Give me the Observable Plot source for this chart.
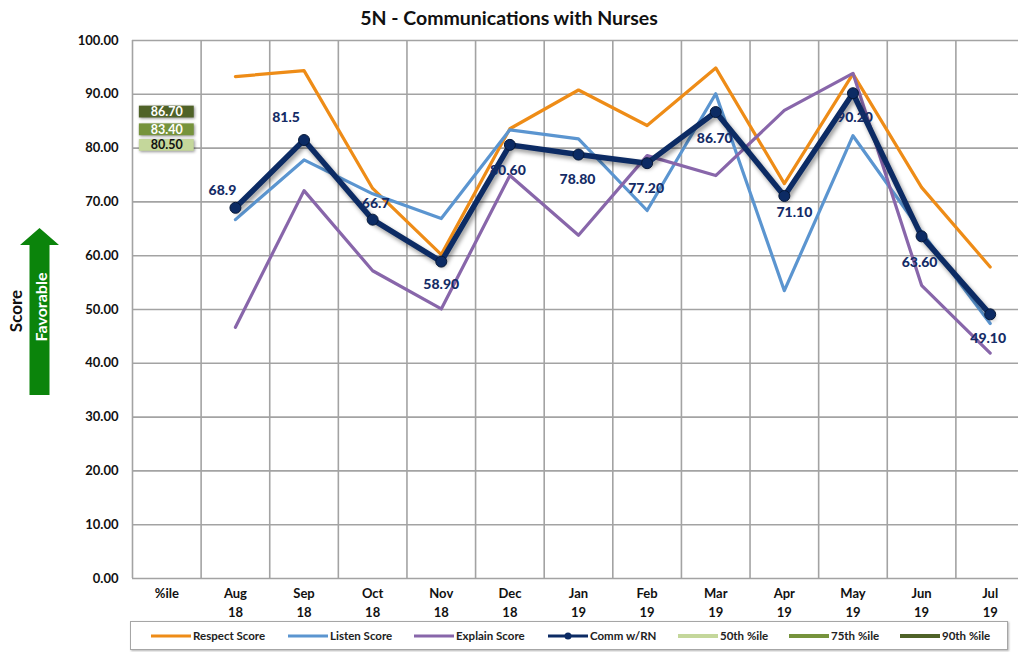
<!DOCTYPE html>
<html><head><meta charset="utf-8">
<script src="https://cdn.jsdelivr.net/npm/d3@7"></script>
<script src="https://cdn.jsdelivr.net/npm/@observablehq/plot@0.6"></script>
<style>
html,body{margin:0;padding:0;background:#fff;overflow:hidden;}
#wrap{position:relative;width:1018px;height:652px;font-family:Lato,"Open Sans",sans-serif;overflow:hidden;}
#title{position:absolute;top:0;left:0;width:1018px;height:36px;text-align:center;font-weight:bold;font-size:19.5px;line-height:36px;color:#111;}
#chart{position:absolute;top:30px;left:0;}
#overlay{position:absolute;top:0;left:0;}
#legend{position:absolute;left:130px;top:621px;width:876px;height:27px;border:1.5px solid #a6a6a6;box-shadow:1px 1px 2px rgba(0,0,0,.3);background:#fff;}
.li{position:absolute;top:0;height:27px;display:flex;align-items:center;font-size:11.5px;font-weight:bold;color:#222;white-space:nowrap;}
.li svg{margin-right:2px;}
</style></head>
<body>
<div id="wrap">
  <div id="title"></div>
  <div id="chart"></div>
  <svg id="overlay" width="70" height="652">
    <polygon points="20,245 39.5,228 59,245 49.5,245 49.5,395 29.5,395 29.5,245" fill="#0b840b"/>
    <text id="fav" transform="translate(40,307) rotate(-90)" text-anchor="middle" dominant-baseline="central" fill="#fff" font-weight="bold" font-size="16px" font-family="Lato, sans-serif"></text>
    <text id="score" transform="translate(15,311) rotate(-90)" text-anchor="middle" dominant-baseline="central" fill="#111" font-weight="bold" font-size="17px" font-family="Lato, sans-serif"></text>
  </svg>
  <div id="legend"></div>
</div>
<script>
// ---- data ----
const titleText = "5N - Communications with Nurses";
const months = ["Aug","Sep","Oct","Nov","Dec","Jan","Feb","Mar","Apr","May","Jun","Jul"];
const years  = ["18","18","18","18","18","19","19","19","19","19","19","19"];
const firstCategory = "%ile";
const respect = [93.3,94.4,72.5,60.2,83.6,90.8,84.2,94.9,73.4,93.8,72.7,57.9];
const listen  = [66.7,77.8,71.5,66.9,83.4,81.7,68.4,90.1,53.5,82.3,64.4,47.4];
const explain = [46.7,72.1,57.2,50.1,74.9,63.8,78.6,74.9,87.0,93.9,54.5,41.9];
const comm    = [68.9,81.5,66.7,58.9,80.6,78.8,77.2,86.7,71.1,90.2,63.6,49.1];
const commLabels = ["68.9","81.5","66.7","58.90","80.60","78.80","77.20","86.70","71.10","90.20","63.60","49.10"];
const pctNames  = ["50th %ile","75th %ile","90th %ile"];
const pctValues = [80.5,83.4,86.7];
const pctLabels = ["80.50","83.40","86.70"];
const seriesNames = ["Respect Score","Listen Score","Explain Score","Comm w/RN"];
const yTicks = [0,10,20,30,40,50,60,70,80,90,100];
const yAxisTitle = "Score";
const arrowText = "Favorable";

// ---- styles / layout ----
const colors = {respect:"#ee8c17", listen:"#5b95d0", explain:"#8866aa", comm:"#0c2b64"};
const pctColors = ["#c4d79b","#76933c","#4f6228"];
const pctText = ["#111","#fff","#fff"];
const grid = "#a3a3a3";
const labelOffsets = [[-13,-17],[-18,-23],[3,-16],[0,23],[-2,26],[-1,25],[-1,25],[-1,26],[10,17],[2,24],[-2,26],[-2,24]];
const legendX = [20,157,283,417,547,658,769];

document.getElementById("title").textContent = titleText;
document.getElementById("fav").textContent = arrowText;
document.getElementById("score").textContent = yAxisTitle;

const idx = d3.range(months.length);
const X = i => i + 1.5;
const cols = d3.range(months.length + 2);

const marks = [
  Plot.ruleY(yTicks, {stroke: grid, strokeWidth: 1.6}),
  Plot.ruleX(cols, {y1: 0, y2: 100, stroke: grid, strokeWidth: 1.6}),
  Plot.axisY({ticks: yTicks, tickFormat: d3.format(".2f"), tickSize: 0, tickPadding: 14, fontSize: 13, fontWeight: "bold", fill: "#111"}),
  // category labels
  Plot.text([firstCategory], {x: 0.5, y: 0, text: d => d, dy: 15, fontSize: 13, fontWeight: "bold", fill: "#111"}),
  Plot.text(idx, {x: X, y: 0, text: i => months[i], dy: 15, fontSize: 13, fontWeight: "bold", fill: "#111"}),
  Plot.text(idx, {x: X, y: 0, text: i => years[i], dy: 34, fontSize: 13, fontWeight: "bold", fill: "#111"}),
  // percentile boxes
  Plot.rect(d3.range(pctValues.length), {x1: 0.1, x2: 0.9, y1: i => pctValues[i] - 1.1, y2: i => pctValues[i] + 1.1,
    fill: i => pctColors[i], imageFilter: "drop-shadow(1.5px 1.5px 1.5px rgba(0,0,0,0.45))"}),
  Plot.text(d3.range(pctValues.length), {x: 0.5, y: i => pctValues[i], text: i => pctLabels[i], fill: i => pctText[i], fontSize: 12.5, fontWeight: "bold"}),
  // series
  Plot.line(idx, {x: X, y: i => respect[i], stroke: colors.respect, strokeWidth: 3.2}),
  Plot.line(idx, {x: X, y: i => listen[i], stroke: colors.listen, strokeWidth: 3.2}),
  Plot.line(idx, {x: X, y: i => explain[i], stroke: colors.explain, strokeWidth: 3.2}),
  Plot.line(idx, {x: X, y: i => comm[i], stroke: colors.comm, strokeWidth: 5.5, imageFilter: "drop-shadow(2px 3px 2px rgba(0,0,0,0.4))"}),
  Plot.dot(idx, {x: X, y: i => comm[i], r: 5.5, fill: colors.comm, stroke: "#061838", strokeWidth: 1}),
  ...idx.map(i => Plot.text([i], {x: X, y: j => comm[j], text: j => commLabels[j], dx: labelOffsets[i][0], dy: labelOffsets[i][1],
    fill: "#152c66", fontSize: 14, fontWeight: 900}))
];

const chart = Plot.plot({
  width: 1018,
  height: 592,
  marginTop: 10,
  marginBottom: 44,
  marginLeft: 132,
  marginRight: 0,
  x: {domain: [0, months.length + 1], range: [132, 1024], axis: null},
  y: {domain: [0, 100], axis: null},
  style: {fontFamily: "Lato, 'Open Sans', sans-serif", background: "transparent", overflow: "hidden"},
  marks
});
document.getElementById("chart").appendChild(chart);

// legend
const legendStyles = [
  {c: colors.respect, w: 3},
  {c: colors.listen, w: 3},
  {c: colors.explain, w: 3},
  {c: colors.comm, w: 3, dot: true},
  {c: pctColors[0], w: 4},
  {c: pctColors[1], w: 4},
  {c: pctColors[2], w: 4}
];
const legendNames = [...seriesNames, ...pctNames];
const legend = document.getElementById("legend");
legendNames.forEach((name, i) => {
  const s = legendStyles[i];
  const div = document.createElement("div");
  div.className = "li";
  div.style.left = legendX[i] + "px";
  div.innerHTML = `<svg width="40" height="8"><line x1="0" x2="40" y1="4" y2="4" stroke="${s.c}" stroke-width="${s.w}"/>${s.dot ? `<circle cx="20" cy="4" r="3.5" fill="${s.c}"/>` : ""}</svg>`;
  const span = document.createElement("span");
  span.textContent = name;
  div.appendChild(span);
  legend.appendChild(div);
});
</script>
</body></html>
